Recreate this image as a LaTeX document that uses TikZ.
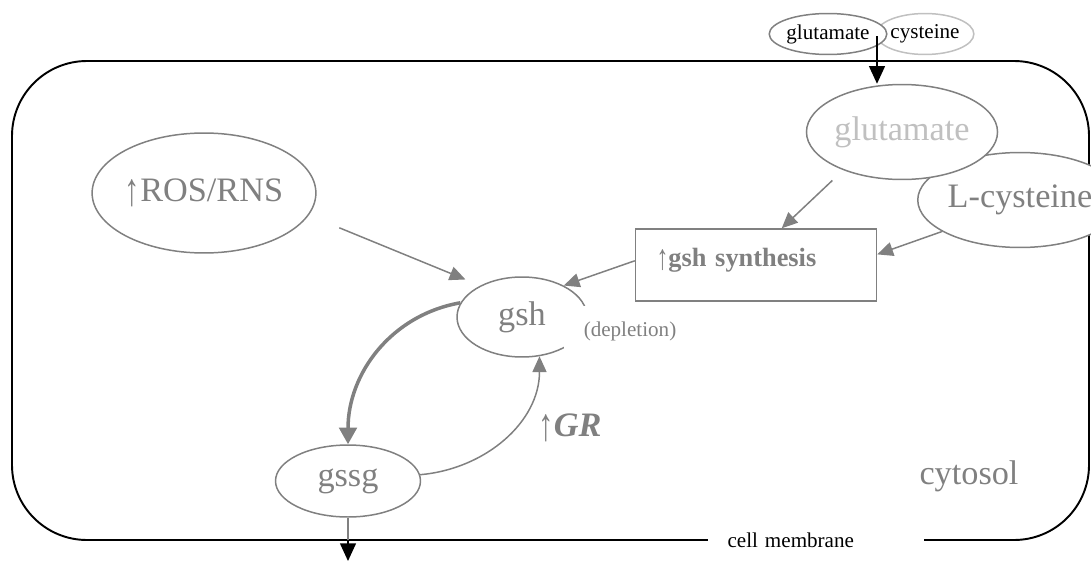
\documentclass[tikz,border=0pt]{standalone}
\usepackage{fontspec}
\setmainfont{Liberation Serif}
\usepackage{tikz}
\usetikzlibrary{arrows.meta}
\usetikzlibrary{calc,shapes,positioning}
\definecolor{gcol}{RGB}{128,128,128}
\definecolor{lcol}{RGB}{192,192,192}
\newcommand{\grand}{\fontsize{19.5}{22}\selectfont}
\newcommand{\petit}{\fontsize{12}{14}\selectfont}
\newcommand{\monte}{\raisebox{-0.12em}{\scalebox{0.9}[1.35]{↑}}}
\tikzset{
bulle/.style={ellipse,draw=gcol,line width=0.85pt,fill=white,inner sep=0pt,text=gcol,font=\grand},
fleche/.style={draw=gcol,line width=0.85pt,-{Triangle[length=9pt,width=8pt]}},
noire/.style={black,line width=0.85pt,-{Triangle[length=10pt,width=9pt]}},
}

\begin{document}
\begin{tikzpicture}[x=0.02cm,y=-0.02cm]
\useasboundingbox (0,0) rectangle (1091,561);
% Membrane
\draw [line width=1.1pt,rounded corners=1.5cm] (12,61) rectangle (1089,540);
\node (memb) [fill=white,font=\petit,text width=3.54cm,inner xsep=0.4cm,align=left] at (816,540) {cell membrane};
% Ellipses
\node (tcys) [bulle,draw=lcol,text=black,font=\petit,minimum width=1.92cm,minimum height=0.82cm] at (925,34) {cysteine};
\node (tglu) [bulle,text=black,font=\petit,minimum width=1.88cm,minimum height=0.82cm] at (828,34) {glutamate};
\node (cys) [bulle,minimum width=3.48cm,minimum height=1.9cm] at (1020,200) {L-cysteine};
\node (glu) [bulle,text=lcol,minimum width=3.56cm,minimum height=1.9cm] at (902,132) {glutamate};
\node (ros) [bulle,minimum width=4.34cm,minimum height=2.4cm] at (204,193) {\monte ROS/RNS};
\node (gsh) [bulle,minimum width=2.6cm,minimum height=1.6cm] at (522,317) {gsh};
\node (depl) [fill=white,text=gcol,font=\petit,inner xsep=0.4cm,inner ysep=0.3cm] at (630,331) {(depletion)};
\node (gssg) [bulle,minimum width=2.9cm,minimum height=1.44cm] at (348,481) {gssg};
\node (syn) [draw=gcol,line width=0.85pt,fill=white,text=gcol,font=\bfseries\fontsize{15}{17}\selectfont,text width=3.98cm,inner xsep=0.42cm,inner ysep=0pt,text height=0.74cm,text depth=0.7cm,align=left] at (756,265) {\monte gsh synthesis};
\node (cyto) [text=gcol,font=\grand] at (969,476) {cytosol};
\node (gr) [text=gcol,font=\grand] at (570,428) {\monte\textbf{\textit{GR}}};
% Flèches
\draw [fleche,shorten <=0.66cm,shorten >=0.32cm] (ros.-12) -- (gsh.143);
\draw [fleche,shorten <=0.3cm] (glu.213) -- (syn.55);
\draw [fleche] (cys.202) -- (syn.5);
\draw [fleche] (syn.178) -- (gsh.37);
\draw [fleche,line width=2pt,-{Triangle[length=9.5pt,width=10pt]}] (gsh.167) to[out=190,in=90] (gssg.north);
\draw [fleche] (gssg.5) to[out=5,in=-90] (gsh.-66);
% Entrée / sortie
\coordinate (gout) at (348,540);
\coordinate (gend) at (348,561);
\draw [draw=gcol,line width=0.85pt] (gssg.south) -- (gout);
\draw [noire] (gout) -- (gend);
\coordinate (tin) at (877,36);
\draw [noire] (tin) -- (tin |- glu.north);
\end{tikzpicture}
\end{document}
